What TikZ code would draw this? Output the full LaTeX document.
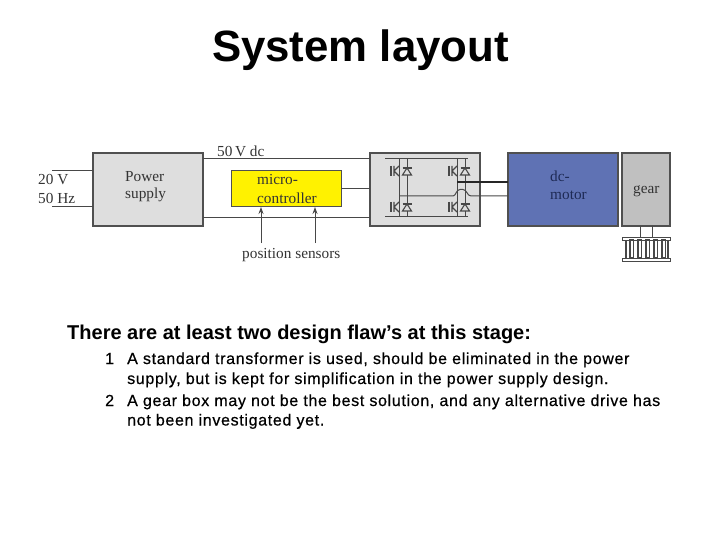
\documentclass[tikz,border=0pt]{standalone}
\usepackage{fontspec}
\setmainfont{Liberation Sans}
\newfontfamily\labelserif{Liberation Serif}
\newfontfamily\itemfont[LetterSpace=4.2,FakeBold=0.5]{Liberation Sans}
\usetikzlibrary{arrows.meta}
\definecolor{wirec}{HTML}{484848}
\definecolor{boxgray}{HTML}{DEDEDE}
\definecolor{gearc}{HTML}{C0C0C0}
\definecolor{motorc}{HTML}{5F72B4}
\definecolor{edgec}{HTML}{505050}
\definecolor{labelc}{HTML}{333333}
\definecolor{navyc}{HTML}{1E2A55}
\tikzset{
  x=1pt,y=-1pt,
  block/.style={draw=edgec,line width=1.4pt,minimum width=#1,minimum height=73pt,inner sep=0pt,outer sep=0pt},
  wire/.style={draw=wirec,line width=1pt},
  thin wire/.style={draw=wirec,line width=1pt},
  sig/.style={draw=wirec,line width=1pt,-{Stealth[length=7pt,width=5pt]}},
  lab/.style={anchor=base west,inner sep=0pt,text=labelc,font=\labelserif\fontsize{15.3}{17}\selectfont},
  title/.style={anchor=base,inner sep=0pt,font=\bfseries\fontsize{43.8}{50}\selectfont},
  head/.style={anchor=base west,inner sep=0pt,font=\bfseries\fontsize{20}{24}\selectfont},
  item/.style={anchor=base west,inner sep=0pt,font=\itemfont\fontsize{16}{20}\selectfont},
  swpair/.pic={
    \draw[wirec,line width=1.3pt] (-8,-5) -- (-8,5);
    \draw[wirec,line width=1.1pt] (-5,-5) -- (-5,5) (-5,0) -- (0,-5) (-5,0) -- (0,5);
    \draw[wirec,line width=1.1pt,fill=boxgray] (8,-3) -- (3.5,4) -- (12.5,4) -- cycle;
    \draw[wirec,line width=1.1pt] (3.5,-3) -- (12.5,-3);
  },
}
\begin{document}
\begin{tikzpicture}
\useasboundingbox (0,0) rectangle (720,540);
\node[title] (ttl) at (360.5,62) {System layout};

% blocks
\node[block=110pt,fill=boxgray] (power) at (148,189.5) {};
\node[block=110pt,minimum height=36pt,line width=1pt,fill=yellow] (micro) at (286,189) {};
\node[block=110pt,fill=boxgray] (bridge) at (425,189.5) {};
\node[block=110pt,fill=motorc] (motor) at (563,189.5) {};
\node[block=48pt,fill=gearc] (gear) at (646,189.5) {};
\draw[edgec,line width=2pt] (power.north east) -- (power.south east);

% external connections
\coordinate (acA) at (52,171);
\coordinate (acB) at (52,207);
\coordinate (senA) at (261,243);
\coordinate (senB) at (315,243);
\draw[wire] (acA) -- (acA -| power.west);
\draw[wire] (acB) -- (acB -| power.west);
\coordinate (railA) at (power.east |- 0,159);
\coordinate (railB) at (power.east |- 0,218);
\draw[wire] (railA) -- (railA -| bridge.west);
\draw[wire] (railB) -- (railB -| bridge.west);
\draw[wire] (micro.east) -- (bridge.west |- micro.east);
\draw[sig] (senA) -- (senA |- micro.south);
\draw[sig] (senB) -- (senB |- micro.south);

% bridge interior
\draw[thin wire] (385,159) -- (468,159);
\draw[thin wire] (385,217) -- (468,217);
\draw[thin wire] (399,159) -- (399,217);
\draw[thin wire] (407,159) -- (407,217);
\draw[thin wire] (457,159) -- (457,217);
\draw[thin wire] (465,159) -- (465,217);
\pic at (399,171) {swpair};
\pic at (399,207) {swpair};
\pic at (457,171) {swpair};
\pic at (457,207) {swpair};
\coordinate (phA) at (457,182);
\coordinate (phB) at (399,196);
\draw[draw=black!85,line width=1.8pt] (phA) -- (phA -| motor.west);
\draw[wire] (phB) -- (453,196) .. controls (456,196) and (456,189.5) .. (460,189.5) -- (463,189.5) .. controls (467,189.5) and (467,196) .. (471,196) -- (motor.west |- phB);

% gear rack
\coordinate (shA) at (640,236.5);
\coordinate (shB) at (652,236.5);
\draw[thin wire] (shA |- gear.south) -- (shA);
\draw[thin wire] (shB |- gear.south) -- (shB);
\draw[wirec,line width=1pt,fill=white] (622,237) rectangle (670,240);
\draw[wirec,line width=1pt,fill=white] (622,258) rectangle (670,261);
\foreach \tx in {630,638,646,654,662}
  \draw[wirec,line width=1.2pt,fill=white] (\tx,240) rectangle ++(3.5,18);
\draw[wirec,line width=1.6pt] (626,240) -- (626,258) (668,240) -- (668,258);

% labels
\node[lab] (l20) at (38,185) {20 V};
\node[lab] (l50) at (38,204) {50 Hz};
\node[lab] (lps) at (125,182) {Power};
\node[lab] (lsu) at (125,199) {supply};
\node[lab] (l50v) at (217,156.5) {50\,V dc};
\node[lab] (lmi) at (257,185) {micro-};
\node[lab] (lco) at (257,204) {controller};
\node[lab] (lpo) at (242,258.5) {position sensors};
\node[lab,text=navyc] (ldc) at (550,182) {dc-};
\node[lab,text=navyc] (lmo) at (550,200) {motor};
\node[lab] (lge) at (633,194) {gear};

% text
\node[head] (hd) at (67,339.5) {There are at least two design flaw’s at this stage:};
\node[item] (n1) at (105,364) {1};
\node[item] (t1a) at (127,364) {A standard transformer is used, should be eliminated in the power};
\node[item] (t1b) at (127,384) {supply, but is kept for simplification in the power supply design.};
\node[item] (n2) at (105,406) {2};
\node[item] (t2a) at (127,406) {A gear box may not be the best solution, and any alternative drive has};
\node[item] (t2b) at (127,425.5) {not been investigated yet.};
\end{tikzpicture}
\end{document}
